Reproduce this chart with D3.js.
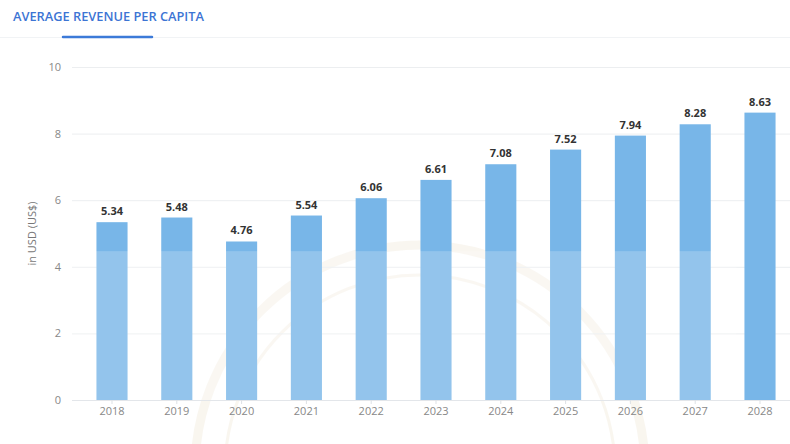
<!DOCTYPE html>
<html>
<head>
<meta charset="utf-8">
<script src="https://cdn.jsdelivr.net/npm/d3@7"></script>
<style>
  html, body { margin: 0; padding: 0; background: #fff; }
  svg { display: block; font-family: "Open Sans", "Noto Sans", sans-serif; }
</style>
</head>
<body>
<svg id="chart" width="790" height="444"></svg>
<script>
// Average revenue per capita, in USD
const years = ["2018", "2019", "2020", "2021", "2022", "2023", "2024", "2025", "2026", "2027", "2028"];
const revenue = [5.34, 5.48, 4.76, 5.54, 6.06, 6.61, 7.08, 7.52, 7.94, 8.28, 8.63];
const yTicks = [0, 2, 4, 6, 8, 10];
const shadeLevel = 4.47;   // top of the pale band across the lower plot

const svg = d3.select("#chart");
const W = 790, H = 444;

// Header tab
svg.append("text")
  .attr("x", 13).attr("y", 21)
  .attr("fill", "#3c74d4")
  .attr("font-size", 12.8).attr("font-weight", 600)
  .text("AVERAGE REVENUE PER CAPITA");
svg.append("line")
  .attr("x1", 0).attr("x2", W).attr("y1", 37.5).attr("y2", 37.5)
  .attr("stroke", "#f1f3f5").attr("stroke-width", 1);
svg.append("line")
  .attr("x1", 63).attr("x2", 152).attr("y1", 37).attr("y2", 37)
  .attr("stroke", "#3c7ad8").attr("stroke-width", 2.5).attr("stroke-linecap", "round");

// Faint seal in the background
const seal = svg.append("g").attr("fill", "none").attr("stroke", "#efe6d4").attr("opacity", 0.35);
seal.append("circle").attr("cx", 420).attr("cy", 470).attr("r", 225).attr("stroke-width", 9);
seal.append("circle").attr("cx", 420).attr("cy", 470).attr("r", 195).attr("stroke-width", 3);

// Scales
const x = d3.scaleBand().domain(years).range([79.6, 792.4]).paddingInner(0.52).paddingOuter(0.26);
const y = d3.scaleLinear().domain([0, 10]).range([400, 67]);

// Grid lines
svg.append("g")
  .selectAll("line").data(yTicks).join("line")
  .attr("x1", 72).attr("x2", W)
  .attr("y1", d => y(d) + 0.5).attr("y2", d => y(d) + 0.5)
  .attr("stroke", d => d === 0 ? "#e3e6ea" : "#eceef0").attr("stroke-width", 1);

// Y axis
const yAxis = svg.append("g")
  .attr("transform", "translate(61,0)")
  .call(d3.axisLeft(y).tickValues(yTicks).tickSize(0).tickPadding(0));
yAxis.select(".domain").remove();
yAxis.selectAll("text").attr("fill", "#888").attr("font-size", 11)
  .attr("font-family", "'Open Sans', sans-serif");

svg.append("text")
  .attr("transform", `translate(36,${(y(0) + y(10)) / 2}) rotate(-90)`)
  .attr("text-anchor", "middle")
  .attr("fill", "#777").attr("font-size", 11)
  .text("in USD (US$)");

// X axis
const xAxis = svg.append("g")
  .attr("transform", `translate(0,${y(0)})`)
  .call(d3.axisBottom(x).tickSize(4).tickPadding(3));
xAxis.select(".domain").remove();
xAxis.selectAll("line").attr("stroke", "#dde1e5");
xAxis.selectAll("text").attr("fill", "#888").attr("font-size", 11)
  .attr("font-family", "'Open Sans', sans-serif");

// Bars
svg.append("g")
  .selectAll("rect").data(years).join("rect")
  .attr("x", d => x(d))
  .attr("width", x.bandwidth())
  .attr("y", (d, i) => y(revenue[i]))
  .attr("height", (d, i) => y(0) - y(revenue[i]))
  .attr("fill", "#78b6e8");

// Pale band over the lower part of the plot
svg.append("rect")
  .attr("x", 72)
  .attr("width", x(years[years.length - 1]) - 8 - 72)
  .attr("y", y(shadeLevel))
  .attr("height", y(0) - y(shadeLevel))
  .attr("fill", "#ffffff").attr("opacity", 0.2);

// Value labels
svg.append("g")
  .selectAll("text").data(years).join("text")
  .attr("x", d => x(d) + x.bandwidth() / 2)
  .attr("y", (d, i) => y(revenue[i]) - 7)
  .attr("text-anchor", "middle")
  .attr("fill", "#333").attr("font-size", 11).attr("font-weight", 700)
  .text((d, i) => revenue[i].toFixed(2));
</script>
</body>
</html>
